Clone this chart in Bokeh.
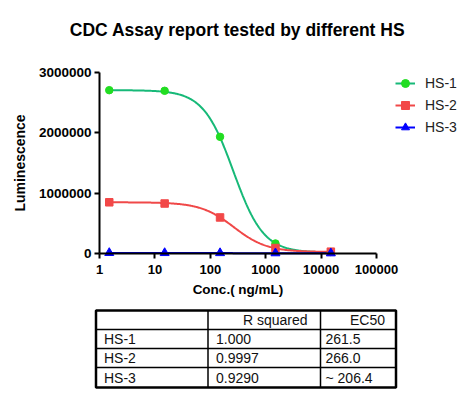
import numpy as np
from bokeh.plotting import figure
from bokeh.models import (Range1d, FixedTicker, NumeralTickFormatter, Legend,
                          LegendItem, ColumnDataSource, LinearScale)
from bokeh.embed import file_html
from bokeh.resources import INLINE
from bokeh.core.properties import value

# ---------------- data ----------------
series_names = ["HS-1", "HS-2", "HS-3"]
conc = [1.5, 15, 150, 1500, 15000]          # ng/mL
hs1 = [2700000, 2690000, 1930000, 170000, 30000]
hs2 = [850000, 830000, 600000, 95000, 35000]
hs3 = [15000, 14000, 13000, 10000, 9000]

# 4-parameter logistic fit parameters (EC50 from the table)
fit_top = [2700000, 850000, 15000]
fit_bottom = [20000, 30000, 8000]
fit_ec50 = [261.5, 266.0, 206.4]
fit_hill = [1.6, 1.45, 1.0]

x_ticks = [1, 10, 100, 1000, 10000, 100000]
y_ticks = [0, 1000000, 2000000, 3000000]

title_text = "CDC Assay report tested by different HS"
x_label = "Conc.( ng/mL)"
y_label = "Luminescence"

table_header = ["", "R squared", "EC50"]
table_rows = ["HS-1", "HS-2", "HS-3"]
r_squared = ["1.000", "0.9997", "0.9290"]
ec50_text = ["261.5", "266.0", "~ 206.4"]

# ---------------- layout / styles ----------------
line_colors = ["#17b978", "#f04848", "#0000ff"]
marker_colors = ["#22dd22", "#f24848", "#0000ff"]
markers = ["circle", "square", "triangle"]
FONT = "Liberation Sans"

W, H = 465, 392
OX, OY = 0, 0                      # page position of the canvas
X_LEFT_PAGE, X_RIGHT_PAGE = 99, 376   # pixel positions of the x-axis ends
Y_BOT_PAGE, Y_TOP_PAGE = 253.3, 71.5  # pixel positions of the y-axis ends

x_lo, x_hi = x_ticks[0], x_ticks[-1]
y_lo, y_hi = y_ticks[0], y_ticks[-1]
dec = (X_RIGHT_PAGE - X_LEFT_PAGE) / np.log10(x_hi / x_lo)
x_start = x_lo * 10 ** (-(X_LEFT_PAGE - OX) / dec)
x_end = x_hi * 10 ** ((OX + W - X_RIGHT_PAGE) / dec)
ppu = (Y_BOT_PAGE - Y_TOP_PAGE) / (y_hi - y_lo)
y_end = y_hi + (Y_TOP_PAGE - OY) / ppu
y_start = y_lo - (OY + H - Y_BOT_PAGE) / ppu

p = figure(width=W, height=H, x_axis_type="log",
           x_range=Range1d(x_start, x_end), y_range=Range1d(y_start, y_end),
           output_backend="svg", toolbar_location=None, min_border=0)
p.outline_line_color = None
p.grid.visible = False
p.background_fill_color = "white"
p.border_fill_color = "white"

# page-pixel coordinate system for title / table
p.extra_x_ranges = {"px": Range1d(OX, OX + W)}
p.extra_x_scales = {"px": LinearScale()}
p.extra_y_ranges = {"py": Range1d(OY + H, OY)}
p.extra_y_scales = {"py": LinearScale()}

# title
p.text(x=[237], y=[29.5], text=[title_text], x_range_name="px", y_range_name="py",
       text_align="center", text_baseline="alphabetic", text_font=value(FONT),
       text_font_size="17.5px", text_font_style="bold", text_color="black")

# curves and points
xs_fit = np.logspace(np.log10(conc[0]), np.log10(conc[-1]), 300)
line_rs, scat_rs = [], []
for i in range(3):
    yf = fit_bottom[i] + (fit_top[i] - fit_bottom[i]) / (1 + (xs_fit / fit_ec50[i]) ** fit_hill[i])
    line_rs.append(p.line(xs_fit, yf, line_color=line_colors[i], line_width=2))
for i, ys in enumerate([hs1, hs2, hs3]):
    scat_rs.append(p.scatter(conc, ys, marker=markers[i], size=7.5 if i < 2 else 9,
                             fill_color=marker_colors[i], line_color=marker_colors[i]))

# axes
xa = p.xaxis[0]
xa.fixed_location = y_lo
xa.bounds = (x_lo, x_hi)
xa.ticker = FixedTicker(ticks=x_ticks, minor_ticks=[])
xa.formatter = NumeralTickFormatter(format="0")
xa.axis_label = x_label
xa.axis_label_standoff = 5
xa.major_label_standoff = 6

ya = p.yaxis[0]
ya.fixed_location = x_lo
ya.bounds = (y_lo, y_hi)
ya.ticker = FixedTicker(ticks=y_ticks, minor_ticks=[])
ya.formatter = NumeralTickFormatter(format="0")
ya.axis_label = y_label
ya.axis_label_standoff = 8
ya.major_label_standoff = 3

for ax in (xa, ya):
    ax.axis_line_width = 2
    ax.axis_line_color = "black"
    ax.major_tick_line_width = 2
    ax.major_tick_line_color = "black"
    ax.major_tick_out = 5
    ax.major_tick_in = 0
    ax.minor_tick_line_color = None
    ax.major_label_text_font = FONT
    ax.major_label_text_font_style = "bold"
    ax.major_label_text_font_size = "13.5px"
    ax.major_label_text_color = "black"
    ax.axis_label_text_font = FONT
    ax.axis_label_text_font_style = "bold"
    ax.axis_label_text_color = "black"
xa.major_label_text_font_size = "13px"
xa.axis_label_text_font_size = "13.5px"
ya.axis_label_text_font_size = "14px"

legend = Legend(items=[LegendItem(label=series_names[i], renderers=[line_rs[i], scat_rs[i]])
                       for i in range(3)],
                location=(395 - OX, OY + H - 138))
legend.padding = 0
legend.margin = 0
legend.spacing = 0
legend.glyph_width = 20
legend.glyph_height = 22
legend.label_height = 22
legend.label_standoff = 10
legend.border_line_color = None
legend.background_fill_alpha = 0
legend.label_text_font = FONT
legend.label_text_font_size = "14px"
legend.label_text_color = "#222222"
p.add_layout(legend)

# ---------------- table (page pixel coordinates) ----------------
col_edges = [95.5, 207.5, 320, 395.5]
row_edges = [310, 329, 348, 367, 387]
kw = dict(x_range_name="px", y_range_name="py")

p.quad(left=col_edges[0], right=col_edges[-1], top=row_edges[0], bottom=row_edges[-1],
       fill_color=None, line_color="black", line_width=2.5, **kw)
p.segment(x0=col_edges[1:-1], x1=col_edges[1:-1], y0=row_edges[0], y1=row_edges[-1],
          line_color="black", line_width=1.5, **kw)
p.segment(x0=col_edges[0], x1=col_edges[-1], y0=row_edges[1:-1], y1=row_edges[1:-1],
          line_color="black", line_width=1.5, **kw)

row_mid = [(row_edges[k] + row_edges[k + 1]) / 2 for k in range(4)]
hdr = ColumnDataSource(dict(x=[col_edges[2] - 13, col_edges[3] - 11],
                            y=[row_mid[0]] * 2, text=table_header[1:]))
p.text(x="x", y="y", text="text", source=hdr, text_align="right", text_baseline="middle",
       text_font=value(FONT), text_font_size="14px", text_color="#111111", **kw)

bx, by, btxt = [], [], []
for k in range(3):
    for cx, val in zip([col_edges[0] + 8, col_edges[1] + 8, col_edges[2] + 5],
                       [table_rows[k], r_squared[k], ec50_text[k]]):
        bx.append(cx); by.append(row_mid[k + 1]); btxt.append(val)
body = ColumnDataSource(dict(x=bx, y=by, text=btxt))
p.text(x="x", y="y", text="text", source=body, text_align="left", text_baseline="middle",
       text_font=value(FONT), text_font_size="14px", text_color="#111111", **kw)

open("out.html", "w").write(file_html(p, INLINE))
